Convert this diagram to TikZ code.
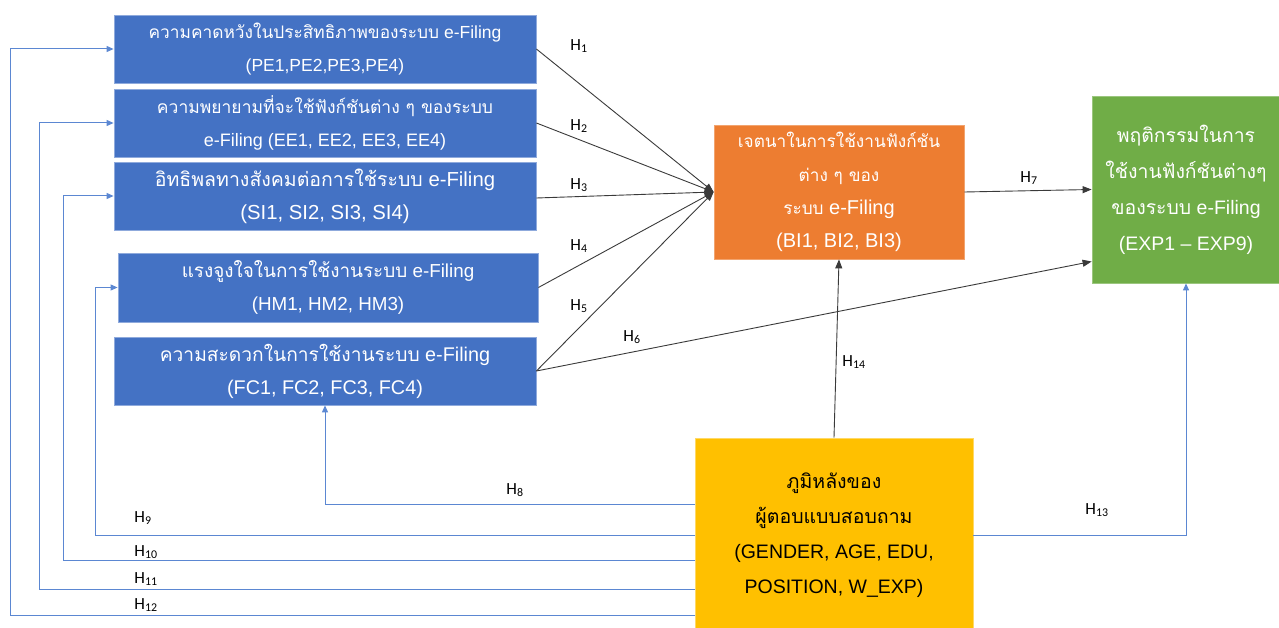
\documentclass[tikz,border=0pt]{standalone}
\usepackage{fontspec}
\setmainfont{Liberation Sans}
\newfontfamily\thaifont[Script=Thai]{Loma}
\newfontfamily\labfont{Carlito}
\newcommand\T[2]{{\fontsize{#1}{33}\selectfont\thaifont #2}}
\newcommand\Hl[1]{H\textsubscript{#1}}
\usetikzlibrary{arrows.meta}
\definecolor{boxblue}{HTML}{4472C4}
\definecolor{boxedge}{HTML}{8FAADC}
\definecolor{boxorange}{HTML}{ED7D31}
\definecolor{boxgreen}{HTML}{70AD47}
\definecolor{boxyellow}{HTML}{FFC000}
\definecolor{linkblue}{HTML}{5B87D2}
\definecolor{linkblack}{HTML}{3A3A3A}
\tikzset{
  bluebox/.style={draw=boxedge, line width=0.8pt, fill=boxblue, text=white, align=center,
    inner sep=0pt},
  orbox/.style={draw=boxorange!70!white, line width=0.8pt, fill=boxorange, text=white, align=center,
    inner sep=0pt, font=\fontsize{20}{33.3}\selectfont},
  grbox/.style={draw=boxgreen!70!white, line width=0.8pt, fill=boxgreen, text=white, align=center,
    inner sep=0pt, font=\fontsize{19.5}{36}\selectfont},
  yebox/.style={draw=boxyellow!60!white, line width=0.8pt, fill=boxyellow, text=black, align=center,
    inner sep=0pt, font=\fontsize{19.5}{35}\selectfont},
  blk/.style={draw=linkblack, line width=0.9pt, -{Triangle[length=9pt,width=7pt]}},
  blu/.style={draw=linkblue, line width=1pt, -{Triangle[length=7pt,width=6pt]}},
  hlab/.style={font=\labfont\fontsize{17}{19}\selectfont, text=black, inner sep=0pt},
}
\begin{document}
\begin{tikzpicture}[x=1pt,y=-1pt]
\useasboundingbox (0,0) rectangle (1279,628);
% boxes
\node[bluebox, font=\fontsize{17.5}{33}\selectfont, minimum width=422pt, minimum height=68pt] (pe) at (325,49)
  {\T{17.3}{ความคาดหวังในประสิทธิภาพของระบบ} e-Filing\\(PE1,PE2,PE3,PE4)};
\node[bluebox, font=\fontsize{18}{33}\selectfont, minimum width=422pt, minimum height=68pt] (ee) at (325,123)
  {\T{17.5}{ความพยายามที่จะใช้ฟังก์ชันต่าง ๆ ของระบบ}\\e-Filing (EE1, EE2, EE3, EE4)};
\node[bluebox, font=\fontsize{20.3}{33}\selectfont, minimum width=422pt, minimum height=68pt] (si) at (325,196)
  {\T{19.5}{อิทธิพลทางสังคมต่อการใช้ระบบ} e-Filing\\(SI1, SI2, SI3, SI4)};
\node[bluebox, font=\fontsize{18.8}{33}\selectfont, minimum width=420pt, minimum height=69pt] (hm) at (328,287.5)
  {\T{18.9}{แรงจูงใจในการใช้งานระบบ} e-Filing\\(HM1, HM2, HM3)};
\node[bluebox, font=\fontsize{19.8}{33}\selectfont, minimum width=422pt, minimum height=68pt] (fc) at (325,371)
  {\T{19.2}{ความสะดวกในการใช้งานระบบ} e-Filing\\(FC1, FC2, FC3, FC4)};
\node[orbox, minimum width=250pt, minimum height=134pt] (bi) at (839,192)
  {\T{17.2}{เจตนาในการใช้งานฟังก์ชัน}\\\T{17.2}{ต่าง ๆ ของ}\\\T{17.2}{ระบบ} e-Filing\\(BI1, BI2, BI3)};
\node[grbox, minimum width=188pt, minimum height=187pt] (gr) at (1186,189.5)
  {\T{19.4}{พฤติกรรมในการ}\\\T{19.4}{ใช้งานฟังก์ชันต่างๆ}\\\T{19.4}{ของระบบ} e-Filing\\(EXP1 -- EXP9)};
\node[yebox, minimum width=278pt, minimum height=194pt] (yl) at (834,535)
  {\T{19.5}{ภูมิหลังของ}\\\T{19.5}{ผู้ตอบแบบสอบถาม}\\(GENDER, AGE, EDU,\\POSITION, W\_EXP)};
% black connectors
\draw[blk] (pe.east) -- (bi.west);
\draw[blk] (ee.east) -- (bi.west);
\draw[blk] ([yshift=-2pt]si.east) -- (bi.west);
\draw[blk] (hm.east) -- (bi.west);
\draw[blk] (fc.east) -- (bi.west);
\draw[blk] (fc.east) -- ([yshift=-72pt]gr.west);
\draw[blk] (bi.east) -- (gr.west);
\draw[blk] (yl.north) -- (bi.south);
% blue connectors
\draw[blu] ([yshift=31pt]yl.west) -| (fc.south);
\draw[blu] (yl.west) -| ([xshift=-22pt]hm.west) -- (hm.west);
\draw[blu] ([yshift=-25pt]yl.west) -| ([xshift=-50pt]si.west) -- (si.west);
\draw[blu] ([yshift=-54pt]yl.west) -| ([xshift=-74pt]ee.west) -- (ee.west);
\draw[blu] ([yshift=-80pt]yl.west) -| ([xshift=-103pt]pe.west) -- (pe.west);
\draw[blu] (yl.east) -| (gr.south);
% labels
\node[hlab] (h1) at (579,46) {\Hl{1}};
\node[hlab] (h2) at (579,126) {\Hl{2}};
\node[hlab] (h3) at (579,185) {\Hl{3}};
\node[hlab] (h4) at (579,246) {\Hl{4}};
\node[hlab] (h5) at (579,306) {\Hl{5}};
\node[hlab] (h6) at (632,337) {\Hl{6}};
\node[hlab] (h7) at (1029,178) {\Hl{7}};
\node[hlab] (h8) at (515,490) {\Hl{8}};
\node[hlab] (h9) at (143,518) {\Hl{9}};
\node[hlab] (h10) at (146,552) {\Hl{10}};
\node[hlab] (h11) at (146,579) {\Hl{11}};
\node[hlab] (h12) at (146,605) {\Hl{12}};
\node[hlab] (h13) at (1097,510) {\Hl{13}};
\node[hlab] (h14) at (854,362) {\Hl{14}};
\end{tikzpicture}
\end{document}
